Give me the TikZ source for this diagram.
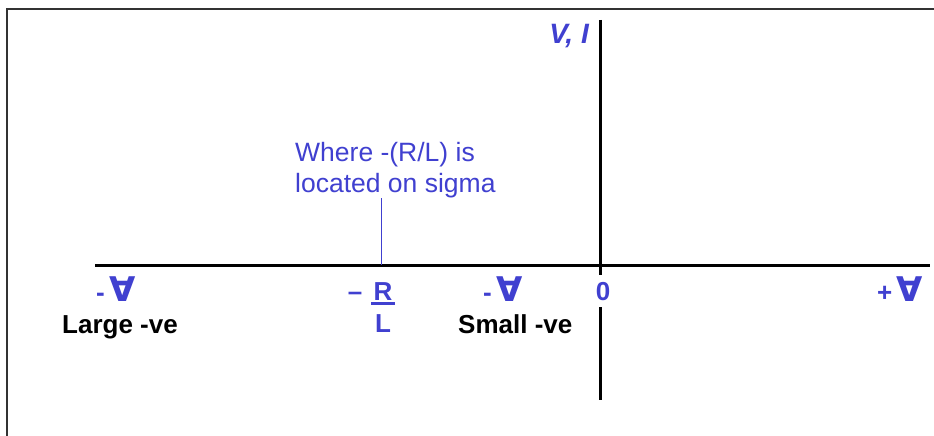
\documentclass[tikz,border=0pt]{standalone}
\usepackage{fontspec}
\setmainfont{Liberation Sans}
\newfontfamily\symfont{DejaVu Sans}
\definecolor{axblue}{RGB}{64,64,208}
\tikzset{
  axisline/.style={line width=3pt, black},
  bluelbl/.style={text=axblue, font=\fontsize{26}{30}\selectfont\bfseries, inner sep=0pt},
  blklbl/.style={text=black, font=\fontsize{26}{30}\selectfont\bfseries, inner sep=0pt},
  siglbl/.style={text=axblue, font=\fontsize{26}{30}\selectfont\bfseries, inner sep=0pt},
  notelbl/.style={text=axblue, font=\fontsize{26.5}{31}\selectfont, align=left, inner sep=0pt},
  pointer/.style={axblue, line width=0.8pt},
  framebox/.style={line width=2pt, black!80}
}
\newcommand{\sgm}{{\symfont\fontsize{34}{34}\selectfont\bfseries ∀}}
\begin{document}
\begin{tikzpicture}[x=1pt,y=-1pt]
\useasboundingbox (0,0) rectangle (934,436);
\fill[white] (0,0) rectangle (934,436);
\draw[framebox] (7,436) -- (7,9.5) -- (934,9.5);
\coordinate (xl) at (95,265);
\coordinate (xr) at (930,265);
\coordinate (yt) at (600,20);
\coordinate (yb) at (600,400);
\draw[axisline] (xl) -- (xr);
\draw[axisline] (yt) -- (yb);
\node[siglbl, anchor=south east, font=\fontsize{28}{32}\selectfont\bfseries\itshape] (vi) at (589,48) {V, I};
\node[notelbl, anchor=north west] (note) at (295,142) {Where -(R/L) is\\located on sigma};
\coordinate (ptr) at (381,198);
\draw[pointer] (ptr) -- (ptr |- xl);
\node[siglbl, anchor=base west] (s1) at (96,301) {-\,\sgm};
\node[blklbl, anchor=base west] (large) at (62,333) {Large -ve};
\node[siglbl, anchor=base] (minus) at (355,300) {–};
\node[siglbl, anchor=base] (rr) at (383,300) {R};
\node[siglbl, anchor=base] (ll) at (383,332) {L};
\draw[axblue, line width=2.5pt] ([xshift=-2pt,yshift=-3.5pt]rr.south west) -- ([xshift=2pt,yshift=-3.5pt]rr.south east);
\node[siglbl, anchor=base west] (s2) at (483,301) {-\,\sgm};
\node[blklbl, anchor=base west] (small) at (458,333) {Small -ve};
\node[siglbl, anchor=base, fill=white, inner xsep=1pt, inner ysep=7pt] (zero) at (603,300) {0};
\node[siglbl, anchor=base west] (s3) at (877,301) {+\,\sgm};
\end{tikzpicture}
\end{document}
